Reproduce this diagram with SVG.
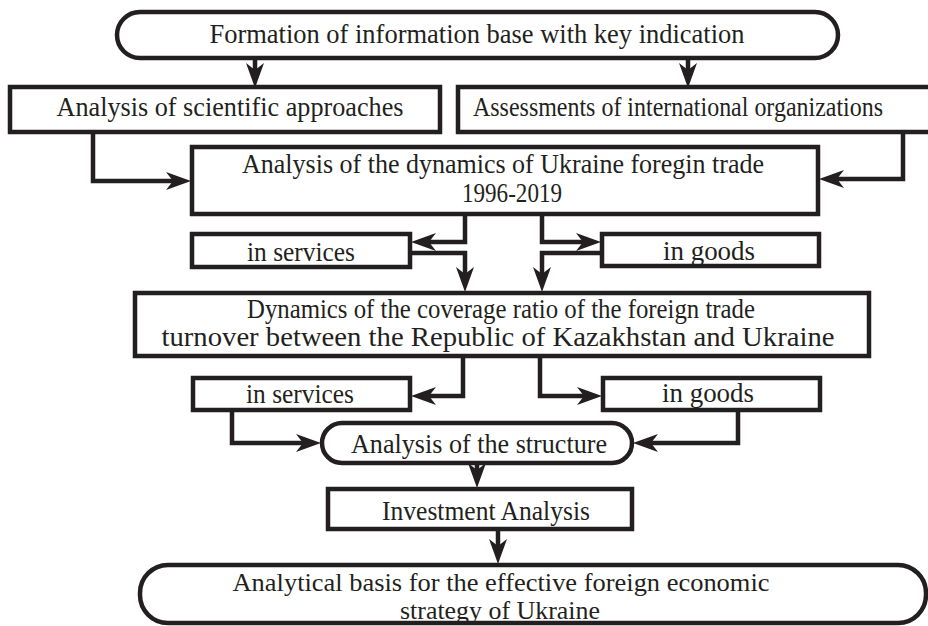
<svg xmlns="http://www.w3.org/2000/svg" width="928" height="626" viewBox="0 0 928 626">
<style>
.box{fill:#fff;stroke:#231f20;stroke-width:4.5}
.c{fill:none;stroke:#231f20;stroke-width:4.5}
text{font-family:"Liberation Serif","Times New Roman",serif;font-size:28px;fill:#231f20;text-anchor:middle}
.s{font-size:26px}
</style>
<defs>
<marker id="ah" markerUnits="userSpaceOnUse" markerWidth="26" markerHeight="20" refX="14" refY="9" orient="auto" viewBox="0 0 26 18">
<path d="M0,0 L25,9 L0,18 L7,9 z" fill="#231f20"/>
</marker>
</defs>
<rect width="928" height="626" fill="#fff"/>
<g id="connectors">
<path class="c" d="M255,58 V77" marker-end="url(#ah)"/>
<path class="c" d="M688,58 V77" marker-end="url(#ah)"/>
<path class="c" d="M93,132 V181 H180" marker-end="url(#ah)"/>
<path class="c" d="M903,132 V179 H830" marker-end="url(#ah)"/>
<path class="c" d="M465,214 V242 H422" marker-end="url(#ah)"/>
<path class="c" d="M542,214 V242 H590" marker-end="url(#ah)"/>
<path class="c" d="M410,253 H465 V281" marker-end="url(#ah)"/>
<path class="c" d="M602,253 H542 V281" marker-end="url(#ah)"/>
<path class="c" d="M463,356 V396 H422" marker-end="url(#ah)"/>
<path class="c" d="M540,356 V396 H591" marker-end="url(#ah)"/>
<path class="c" d="M232,410 V443 H310" marker-end="url(#ah)"/>
<path class="c" d="M738,410 V443 H644" marker-end="url(#ah)"/>
<path class="c" d="M477,463 V477" marker-end="url(#ah)"/>
<path class="c" d="M498,529 V553" marker-end="url(#ah)"/>
</g>
<g id="n1"><rect class="box" x="117" y="12" width="721" height="46" rx="23"/><text x="477" y="43" textLength="535" lengthAdjust="spacingAndGlyphs">Formation of information base with key indication</text></g>
<g id="n2"><rect class="box" x="10" y="87" width="430" height="45"/><text x="230" y="116" textLength="347" lengthAdjust="spacingAndGlyphs">Analysis of scientific approaches</text></g>
<g id="n3"><rect class="box" x="458" y="87" width="490" height="45"/><text x="678" y="116" textLength="410" lengthAdjust="spacingAndGlyphs">Assessments of international organizations</text></g>
<g id="n4"><rect class="box" x="192" y="147" width="626" height="67"/><text x="503" y="173" textLength="522" lengthAdjust="spacingAndGlyphs">Analysis of the dynamics of Ukraine foregin trade</text><text x="512" y="202" textLength="100" lengthAdjust="spacingAndGlyphs">1996-2019</text></g>
<g id="n5"><rect class="box" x="192" y="234" width="218" height="33"/><text x="301" y="261" textLength="108" lengthAdjust="spacingAndGlyphs">in services</text></g>
<g id="n6"><rect class="box" x="602" y="234" width="217" height="32"/><text x="709" y="260" textLength="92" lengthAdjust="spacingAndGlyphs">in goods</text></g>
<g id="n7"><rect class="box" x="135" y="293" width="734" height="63"/><text x="501" y="318" textLength="508" lengthAdjust="spacingAndGlyphs">Dynamics of the coverage ratio of the foreign trade</text><text x="498" y="346" textLength="673" lengthAdjust="spacingAndGlyphs">turnover between the Republic of Kazakhstan and Ukraine</text></g>
<g id="n8"><rect class="box" x="193" y="378" width="217" height="32"/><text x="300" y="403" textLength="108" lengthAdjust="spacingAndGlyphs">in services</text></g>
<g id="n9"><rect class="box" x="603" y="378" width="217" height="32"/><text x="708" y="402" textLength="92" lengthAdjust="spacingAndGlyphs">in goods</text></g>
<g id="n10"><rect class="box" x="322" y="423" width="310" height="40" rx="20"/><text x="479" y="453" textLength="256" lengthAdjust="spacingAndGlyphs">Analysis of the structure</text></g>
<g id="n11"><rect class="box" x="328" y="489" width="304" height="40"/><text x="486" y="520" textLength="208" lengthAdjust="spacingAndGlyphs">Investment Analysis</text></g>
<g id="n12"><rect class="box" x="140" y="565" width="786" height="58" rx="28"/><text class="s" x="501" y="591" textLength="537" lengthAdjust="spacingAndGlyphs">Analytical basis for the effective foreign economic</text><text class="s" x="500" y="619" textLength="200" lengthAdjust="spacingAndGlyphs">strategy of Ukraine</text></g>
</svg>
